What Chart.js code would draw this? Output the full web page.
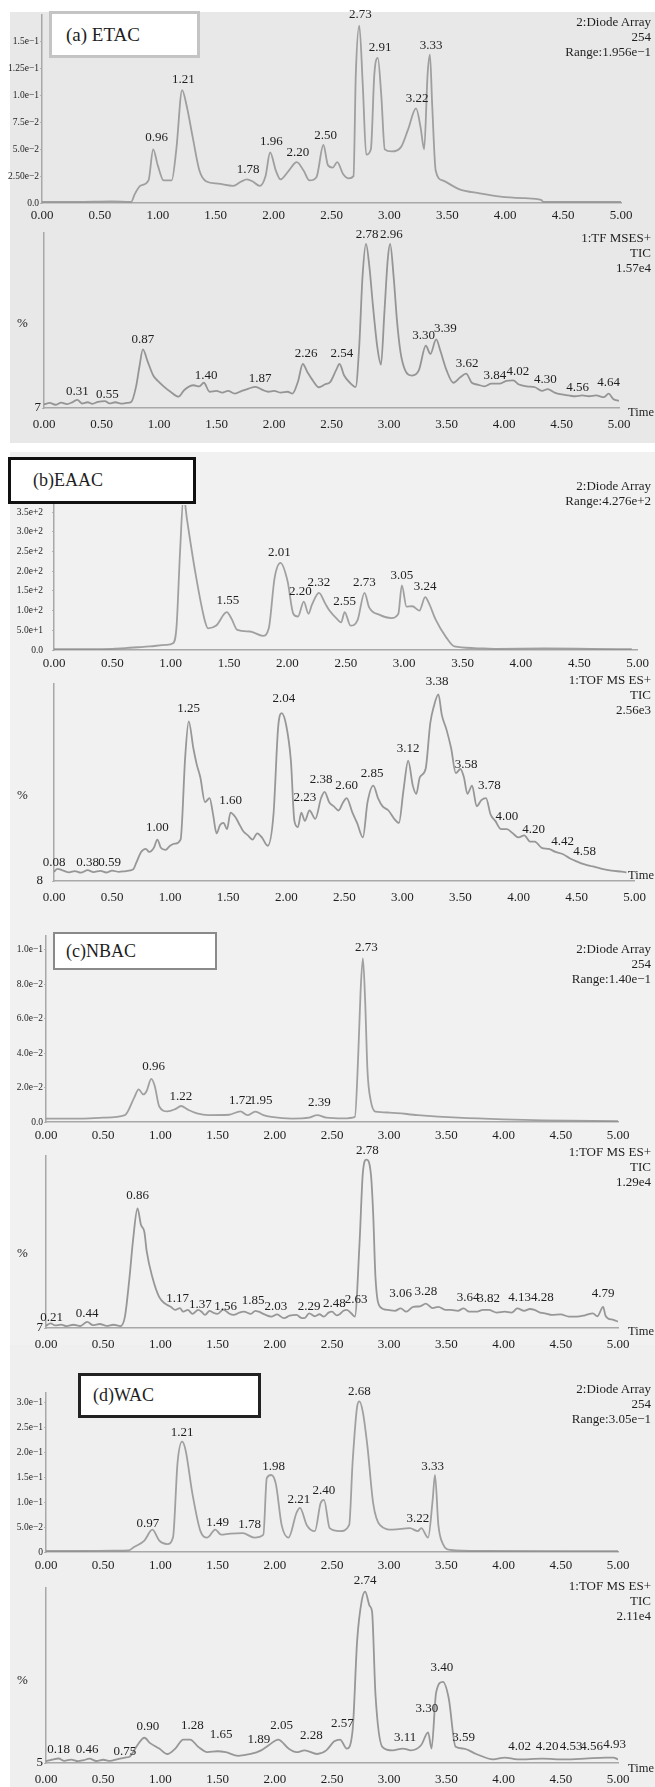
<!DOCTYPE html>
<html>
<head>
<meta charset="utf-8">
<script src="https://cdn.jsdelivr.net/npm/chart.js"></script>
<style>
  html, body { margin: 0; padding: 0; background: #fff; }
  #page { position: relative; width: 655px; height: 1787px; overflow: hidden;
          font-family: "Liberation Serif", "Times New Roman", "DejaVu Serif", serif; color: #1e1e1e; }
  .panel { position: absolute; left: 10px; width: 645px; }
  canvas { position: absolute; left: 0; }
  .tag { position: absolute; background: #fff; font-size: 18px; box-sizing: border-box;
         display: flex; align-items: center; z-index: 5; }
  .info { position: absolute; right: 4px; text-align: right; font-size: 13px; line-height: 15px; z-index: 4; }
  .pct { position: absolute; left: 17px; font-size: 13px; }
  .time { position: absolute; right: 1px; font-size: 12.5px; }
</style>
</head>
<body>
<div id="page">
  <div class="panel" style="top:12px;height:431px;background:#e7e8e7"></div>
  <div class="panel" style="top:452px;height:453px;background:#f1f1f1"></div>
  <div class="panel" style="top:905px;height:440px;background:#f1f1f1"></div>
  <div class="panel" style="top:1345px;height:442px;background:#efefef"></div>

  <canvas id="etacUvChart"></canvas>
  <canvas id="etacTicChart"></canvas>
  <canvas id="eaacUvChart"></canvas>
  <canvas id="eaacTicChart"></canvas>
  <canvas id="nbacUvChart"></canvas>
  <canvas id="nbacTicChart"></canvas>
  <canvas id="wacUvChart"></canvas>
  <canvas id="wacTicChart"></canvas>

  <div class="tag" style="left:49px;top:11px;width:151px;height:47px;border:3px solid #c4c4c4;padding-left:14px;font-size:19px">(a) ETAC</div>
  <div class="tag" style="left:8px;top:457px;width:188px;height:47px;border:3px solid #111;padding-left:22px">(b)EAAC</div>
  <div class="tag" style="left:53px;top:932px;width:164px;height:38px;border:2px solid #8a8a8a;padding-left:11px">(c)NBAC</div>
  <div class="tag" style="left:78px;top:1373px;width:183px;height:45px;border:3px solid #222;padding-left:12px">(d)WAC</div>

  <div class="info" style="top:14px">2:Diode Array<br>254<br>Range:1.956e&minus;1</div>
  <div class="info" style="top:230px">1:TF MSES+<br>TIC<br>1.57e4</div>
  <div class="info" style="top:478px">2:Diode Array<br>Range:4.276e+2</div>
  <div class="info" style="top:672px">1:TOF MS ES+<br>TIC<br>2.56e3</div>
  <div class="info" style="top:941px">2:Diode Array<br>254<br>Range:1.40e&minus;1</div>
  <div class="info" style="top:1144px">1:TOF MS ES+<br>TIC<br>1.29e4</div>
  <div class="info" style="top:1381px">2:Diode Array<br>254<br>Range:3.05e&minus;1</div>
  <div class="info" style="top:1578px">1:TOF MS ES+<br>TIC<br>2.11e4</div>

  <div class="pct" style="top:315px">%</div>
  <div class="pct" style="top:787px">%</div>
  <div class="pct" style="top:1245px">%</div>
  <div class="pct" style="top:1672px">%</div>

  <div class="time" style="top:405px">Time</div>
  <div class="time" style="top:868px">Time</div>
  <div class="time" style="top:1324px">Time</div>
  <div class="time" style="top:1761px">Time</div>
</div>

<script>
// retention time axis (min)
const timeTicks = [0, 0.5, 1, 1.5, 2, 2.5, 3, 3.5, 4, 4.5, 5];

// (a) ETAC - diode array 254
const etacUvTicks = [0, 0.025, 0.05, 0.075, 0.1, 0.125, 0.15];
const etacUvTickLabels = ['0.0', '2.50e\u22122', '5.0e\u22122', '7.5e\u22122', '1.0e\u22121', '1.25e\u22121', '1.5e\u22121'];
const etacUv = [[0,0.001],[0.3,0.001],[0.6,0.0015],[0.77,0.001],[0.8,0.008],[0.85,0.016],[0.92,0.021],[0.96,0.05],[1.0,0.035],[1.05,0.021],[1.12,0.021],[1.16,0.05],[1.21,0.105],[1.25,0.09],[1.3,0.062],[1.36,0.03],[1.42,0.02],[1.52,0.018],[1.65,0.016],[1.72,0.02],[1.77,0.022],[1.82,0.02],[1.88,0.016],[1.93,0.025],[1.97,0.047],[2.02,0.03],[2.06,0.022],[2.13,0.03],[2.2,0.038],[2.26,0.03],[2.31,0.021],[2.37,0.024],[2.43,0.054],[2.47,0.035],[2.51,0.033],[2.55,0.038],[2.6,0.027],[2.65,0.023],[2.69,0.025],[2.71,0.12],[2.74,0.165],[2.77,0.11],[2.8,0.045],[2.84,0.05],[2.87,0.12],[2.9,0.135],[2.93,0.1],[2.96,0.05],[3.02,0.048],[3.1,0.052],[3.16,0.068],[3.23,0.088],[3.27,0.07],[3.3,0.05],[3.33,0.12],[3.35,0.138],[3.37,0.09],[3.4,0.03],[3.46,0.021],[3.6,0.013],[3.78,0.009],[3.96,0.006],[4.17,0.0045],[4.31,0.003],[4.33,0.001],[5.0,0.001]];
const etacUvPeaks = [[0.99,0.061,'0.96'],[1.22,0.115,'1.21'],[1.78,0.031,'1.78'],[1.98,0.057,'1.96'],[2.21,0.047,'2.20'],[2.45,0.063,'2.50'],[2.75,0.175,'2.73'],[2.92,0.145,'2.91'],[3.36,0.147,'3.33'],[3.24,0.097,'3.22']];

// (a) ETAC - TIC
const etacTicTicks = [7];
const etacTicTickLabels = ['7'];
const etacTic = [[0,9],[0.05,9.8],[0.1,8.8],[0.15,10],[0.2,9.2],[0.25,10.3],[0.29,11.5],[0.33,9.5],[0.38,10.2],[0.42,9.3],[0.47,10.4],[0.53,10.8],[0.57,9.6],[0.62,10.2],[0.67,9.4],[0.72,9.8],[0.76,10.5],[0.8,18.7],[0.83,30],[0.86,39.5],[0.9,33],[0.95,25],[0.99,22],[1.04,19],[1.1,16],[1.17,13.3],[1.22,17],[1.3,19.6],[1.35,19],[1.39,21],[1.44,16],[1.5,16.5],[1.55,15.5],[1.6,16.5],[1.66,15],[1.72,16.5],[1.78,17.8],[1.84,18.7],[1.9,17],[1.95,16],[2.0,16.5],[2.06,15.5],[2.12,16],[2.16,15],[2.21,22],[2.25,31.4],[2.29,27],[2.34,22],[2.39,18.5],[2.44,20],[2.49,21.5],[2.54,28],[2.57,31.4],[2.61,25],[2.66,21],[2.71,18.7],[2.74,40],[2.77,80],[2.8,98],[2.83,85],[2.86,64],[2.9,40],[2.93,31],[2.96,60],[2.99,90],[3.01,98],[3.04,80],[3.07,55],[3.1,38],[3.14,28],[3.2,25],[3.26,28],[3.32,41.5],[3.36,37],[3.41,45],[3.45,38],[3.5,28],[3.56,21],[3.62,24],[3.67,26],[3.72,21],[3.77,20],[3.83,19],[3.89,20.5],[3.96,20.5],[4.02,22],[4.08,22.3],[4.13,20],[4.2,19],[4.27,18.5],[4.33,16.5],[4.38,17.5],[4.44,15.5],[4.5,14.5],[4.56,14],[4.62,13.5],[4.68,14],[4.74,13.5],[4.8,14],[4.87,13],[4.91,15],[4.95,12],[5.0,11]];
const etacTicPeaks = [[0.29,16,'0.31'],[0.55,14.2,'0.55'],[0.86,45,'0.87'],[1.41,25,'1.40'],[1.88,23.5,'1.87'],[2.28,37,'2.26'],[2.59,37,'2.54'],[2.81,103,'2.78'],[3.02,103,'2.96'],[3.3,47,'3.30'],[3.49,51,'3.39'],[3.68,31.5,'3.62'],[3.92,25,'3.84'],[4.12,27,'4.02'],[4.36,23,'4.30'],[4.64,18.5,'4.56'],[4.91,21,'4.64']];

// (b) EAAC - diode array
const eaacUvTicks = [0, 50, 100, 150, 200, 250, 300, 350];
const eaacUvTickLabels = ['0.0', '5.0e+1', '1.0e+2', '1.5e+2', '2.0e+2', '2.5e+2', '3.0e+2', '3.5e+2'];
const eaacUv = [[0,2],[0.3,2],[0.5,3],[0.61,5],[0.72,7],[0.82,9],[0.96,13],[1.02,17],[1.05,60],[1.08,250],[1.11,390],[1.14,330],[1.21,198],[1.29,77],[1.32,55],[1.39,62],[1.48,96],[1.52,80],[1.57,51],[1.68,47],[1.79,36],[1.84,55],[1.89,183],[1.94,221],[2.0,176],[2.05,92],[2.09,85],[2.14,123],[2.18,92],[2.21,115],[2.27,145],[2.32,120],[2.36,100],[2.43,77],[2.46,70],[2.49,96],[2.54,62],[2.6,75],[2.66,145],[2.7,108],[2.79,89],[2.89,81],[2.95,92],[2.98,164],[3.02,110],[3.07,111],[3.13,100],[3.18,134],[3.21,120],[3.27,77],[3.36,32],[3.43,9],[3.6,5],[3.8,3],[4.2,4],[4.6,3],[4.95,2]];
const eaacUvPeaks = [[1.49,125,'1.55'],[1.93,248,'2.01'],[2.11,148,'2.20'],[2.27,172,'2.32'],[2.49,123,'2.55'],[2.66,172,'2.73'],[2.98,190,'3.05'],[3.18,160,'3.24']];

// (b) EAAC - TIC
const eaacTicTicks = [8];
const eaacTicTickLabels = ['8'];
const eaacTic = [[0,12.5],[0.03,13.8],[0.08,13],[0.13,12.2],[0.18,12.8],[0.23,12],[0.29,13.2],[0.34,12.3],[0.4,12.9],[0.45,12.1],[0.5,13],[0.56,12.4],[0.62,12.8],[0.68,13.5],[0.71,17],[0.75,22],[0.79,23.5],[0.82,22],[0.86,24],[0.89,28],[0.92,24],[0.96,23],[1.0,25],[1.04,26],[1.09,28],[1.13,68],[1.16,85],[1.2,72],[1.23,64],[1.26,58],[1.3,46],[1.34,48],[1.37,40],[1.4,31],[1.43,35],[1.46,36],[1.49,33],[1.52,41],[1.56,39],[1.59,36],[1.63,32],[1.67,30],[1.71,28],[1.75,31],[1.79,29],[1.84,25],[1.89,40],[1.93,82],[1.96,89],[2.0,83],[2.04,66],[2.07,37],[2.1,34],[2.13,41],[2.16,37],[2.2,42],[2.25,38],[2.3,48],[2.33,51],[2.37,46],[2.41,44],[2.45,42],[2.49,46],[2.52,48],[2.57,41],[2.61,36],[2.66,29],[2.7,46],[2.75,54],[2.79,48],[2.83,44],[2.88,42],[2.93,38],[2.97,36],[3.01,52],[3.05,66],[3.09,54],[3.12,50],[3.15,58],[3.2,62],[3.24,84],[3.27,92],[3.31,98],[3.34,88],[3.38,81],[3.42,72],[3.46,60],[3.5,62],[3.53,58],[3.56,50],[3.6,54],[3.64,44],[3.68,47],[3.72,48],[3.76,40],[3.8,37],[3.85,33],[3.9,33],[3.95,31],[4.0,29],[4.05,30],[4.1,27],[4.14,27],[4.2,24],[4.26,23.5],[4.32,22],[4.38,21],[4.44,19],[4.5,17.5],[4.57,16],[4.64,15],[4.71,14],[4.8,13],[4.89,12.5],[4.93,12.2]];
const eaacTicPeaks = [[0.0,17,'0.08'],[0.29,17,'0.38'],[0.48,17,'0.59'],[0.89,34,'1.00'],[1.16,91,'1.25'],[1.52,47,'1.60'],[1.98,96,'2.04'],[2.16,48,'2.23'],[2.3,57,'2.38'],[2.52,54,'2.60'],[2.74,60,'2.85'],[3.05,72,'3.12'],[3.3,104,'3.38'],[3.55,64,'3.58'],[3.75,54,'3.78'],[3.9,39,'4.00'],[4.13,33,'4.20'],[4.38,27,'4.42'],[4.57,22,'4.58']];

// (c) NBAC - diode array 254
const nbacUvTicks = [0, 0.02, 0.04, 0.06, 0.08, 0.1];
const nbacUvTickLabels = ['0.0', '2.0e\u22122', '4.0e\u22122', '6.0e\u22122', '8.0e\u22122', '1.0e\u22121'];
const nbacUv = [[0,0.002],[0.3,0.002],[0.5,0.0025],[0.69,0.004],[0.77,0.014],[0.81,0.019],[0.85,0.016],[0.88,0.018],[0.92,0.025],[0.95,0.021],[0.99,0.009],[1.06,0.0062],[1.13,0.0075],[1.18,0.0093],[1.24,0.0072],[1.32,0.005],[1.42,0.004],[1.6,0.0042],[1.7,0.0062],[1.76,0.004],[1.83,0.006],[1.9,0.004],[1.97,0.003],[2.15,0.002],[2.3,0.0025],[2.37,0.004],[2.45,0.0025],[2.6,0.0021],[2.7,0.003],[2.73,0.04],[2.75,0.076],[2.77,0.095],[2.79,0.07],[2.81,0.03],[2.84,0.012],[2.88,0.006],[3.0,0.0055],[3.25,0.004],[3.6,0.0025],[4.0,0.0015],[4.35,0.001],[5.0,0.0005]];
const nbacUvPeaks = [[0.94,0.032,'0.96'],[1.18,0.0145,'1.22'],[1.7,0.0125,'1.72'],[1.88,0.0125,'1.95'],[2.39,0.0115,'2.39'],[2.8,0.101,'2.73']];

// (c) NBAC - TIC
const nbacTicTicks = [7];
const nbacTicTickLabels = ['7'];
const nbacTic = [[0,8.2],[0.04,9.6],[0.08,8.4],[0.13,8.9],[0.18,8],[0.24,8.8],[0.3,8.1],[0.36,10.4],[0.41,8.6],[0.47,9.2],[0.53,8.2],[0.59,8.8],[0.65,8],[0.69,13.3],[0.73,35],[0.76,55],[0.8,73],[0.83,64],[0.86,60],[0.88,49.4],[0.93,35],[0.99,24],[1.04,20.5],[1.09,18.7],[1.13,17],[1.17,18],[1.2,16],[1.24,17],[1.28,14.8],[1.33,17],[1.36,16],[1.39,14.2],[1.43,16.5],[1.46,15.5],[1.5,14.8],[1.55,17.2],[1.6,15],[1.64,14.2],[1.69,15.5],[1.73,16],[1.79,14.8],[1.83,16.5],[1.86,16],[1.91,14.5],[1.97,13.3],[2.02,14.5],[2.08,12.4],[2.13,13.8],[2.19,14.2],[2.23,12.6],[2.26,12.4],[2.3,15.1],[2.35,13.5],[2.39,14.6],[2.43,13.3],[2.47,15.5],[2.5,16],[2.54,14],[2.57,14.8],[2.6,16.5],[2.63,17],[2.67,15],[2.7,13.3],[2.74,53],[2.77,93],[2.8,100],[2.84,92],[2.86,70],[2.88,35],[2.92,18.7],[2.99,17],[3.05,16.5],[3.1,17.8],[3.15,16],[3.21,18.7],[3.27,19],[3.32,20.5],[3.38,18],[3.43,18.7],[3.49,17],[3.54,17],[3.6,16.5],[3.65,17.8],[3.7,16],[3.76,16],[3.82,17],[3.87,17],[3.94,15.5],[4.01,16],[4.07,15.5],[4.12,17.8],[4.18,16.5],[4.23,17.5],[4.27,17],[4.32,15.5],[4.37,15],[4.42,14.2],[4.5,14.5],[4.57,13.3],[4.64,13.3],[4.71,14],[4.78,15.1],[4.82,13.5],[4.87,18.7],[4.89,14],[4.91,12.4],[4.96,11.5],[5.0,10.5]];
const nbacTicPeaks = [[0.05,12.8,'0.21'],[0.36,15.2,'0.44'],[0.8,80,'0.86'],[1.15,23,'1.17'],[1.35,20,'1.37'],[1.57,19,'1.56'],[1.81,22,'1.85'],[2.01,19,'2.03'],[2.3,19,'2.29'],[2.52,20.5,'2.48'],[2.71,22.5,'2.63'],[2.81,105,'2.78'],[3.1,26,'3.06'],[3.32,27,'3.28'],[3.69,24,'3.64'],[3.87,23.3,'3.82'],[4.14,24,'4.13'],[4.34,24,'4.28'],[4.87,26,'4.79']];

// (d) WAC - diode array 254
const wacUvTicks = [0, 0.05, 0.1, 0.15, 0.2, 0.25, 0.3];
const wacUvTickLabels = ['0', '5.0e\u22122', '1.0e\u22121', '1.5e\u22121', '2.0e\u22121', '2.5e\u22121', '3.0e\u22121'];
const wacUv = [[0,0.002],[0.3,0.002],[0.6,0.0025],[0.72,0.003],[0.77,0.01],[0.86,0.023],[0.93,0.045],[0.99,0.023],[1.06,0.016],[1.11,0.029],[1.15,0.18],[1.19,0.222],[1.22,0.205],[1.28,0.117],[1.35,0.042],[1.41,0.029],[1.48,0.045],[1.53,0.035],[1.61,0.037],[1.72,0.038],[1.82,0.029],[1.9,0.035],[1.93,0.149],[1.97,0.155],[2.01,0.136],[2.06,0.054],[2.12,0.029],[2.19,0.079],[2.22,0.089],[2.28,0.054],[2.35,0.042],[2.4,0.098],[2.43,0.105],[2.48,0.048],[2.57,0.042],[2.65,0.054],[2.68,0.18],[2.72,0.293],[2.74,0.303],[2.77,0.281],[2.81,0.212],[2.86,0.098],[2.92,0.054],[3.03,0.045],[3.18,0.048],[3.25,0.042],[3.28,0.048],[3.34,0.029],[3.38,0.105],[3.4,0.155],[3.43,0.054],[3.47,0.016],[3.54,0.004],[3.8,0.002],[5.0,0.0015]];
const wacUvPeaks = [[0.89,0.058,'0.97'],[1.19,0.24,'1.21'],[1.5,0.06,'1.49'],[1.78,0.055,'1.78'],[1.99,0.172,'1.98'],[2.21,0.106,'2.21'],[2.43,0.124,'2.40'],[2.74,0.322,'2.68'],[3.25,0.068,'3.22'],[3.38,0.172,'3.33']];

// (d) WAC - TIC
const wacTicTicks = [5];
const wacTicTickLabels = ['5'];
const wacTic = [[0,6],[0.05,6.8],[0.11,7.5],[0.16,6.2],[0.22,6.9],[0.28,6],[0.33,6.6],[0.38,7.4],[0.44,6.1],[0.5,6.8],[0.56,6.2],[0.62,7],[0.69,8],[0.73,8.5],[0.8,15],[0.86,19],[0.91,16],[0.99,13],[1.06,10],[1.13,13],[1.2,18],[1.26,18],[1.33,14],[1.41,11],[1.5,11.5],[1.57,11],[1.68,9],[1.79,10],[1.88,12],[1.95,15],[2.03,18],[2.12,13],[2.19,11],[2.26,12],[2.37,10],[2.45,12],[2.52,17],[2.57,18],[2.63,13],[2.68,23],[2.72,73],[2.76,95],[2.79,100],[2.83,92],[2.85,89],[2.88,43],[2.94,14],[3.03,12],[3.12,13],[3.19,12],[3.28,15],[3.34,22],[3.37,13],[3.41,44],[3.47,50],[3.52,41],[3.58,14],[3.65,13],[3.76,10],[3.91,7],[4.01,8],[4.12,7],[4.34,7.4],[4.53,7],[4.71,7.4],[4.89,8],[4.96,8],[5.0,7]];
const wacTicPeaks = [[0.11,12.5,'0.18'],[0.36,12.5,'0.46'],[0.69,11.5,'0.75'],[0.89,25,'0.90'],[1.28,26,'1.28'],[1.53,21,'1.65'],[1.86,18,'1.89'],[2.06,26,'2.05'],[2.32,20,'2.28'],[2.59,27,'2.57'],[2.79,106,'2.74'],[3.14,19,'3.11'],[3.33,35,'3.30'],[3.46,58,'3.40'],[3.65,19,'3.59'],[4.14,14,'4.02'],[4.38,14,'4.20'],[4.59,14,'4.53'],[4.77,14,'4.56'],[4.97,15,'4.93']];

const FONT = '"Liberation Serif", "Times New Roman", "DejaVu Serif", serif';
const PAD_T = 26;
const AXIS_H = 30;

// numero do pico escrito acima de cada pico
const peakLabels = {
  id: 'peakLabels',
  afterDraw(chart, args, opts) {
    const ctx = chart.ctx;
    const xs = chart.scales.x, ys = chart.scales.y;
    ctx.save();
    ctx.font = '13px ' + FONT;
    ctx.fillStyle = '#1e1e1e';
    ctx.textAlign = 'center';
    ctx.textBaseline = 'middle';
    (opts.items || []).forEach(p => {
      ctx.fillText(p[2], xs.getPixelForValue(p[0]), ys.getPixelForValue(p[1]));
    });
    ctx.restore();
  }
};

function desenharTraco(id, box, trace, peaks, yTicks, yTickLabels, cfg) {
  const cv = document.getElementById(id);
  const h = box.base - box.top + PAD_T + AXIS_H;
  cv.width = 655;
  cv.height = h;
  cv.style.width = '655px';
  cv.style.height = h + 'px';
  cv.style.top = (box.top - PAD_T) + 'px';

  return new Chart(cv, {
    type: 'line',
    data: {
      datasets: [{
        data: trace.map(p => ({ x: p[0], y: p[1] })),
        borderColor: cfg.color,
        borderWidth: cfg.width,
        pointRadius: 0,
        fill: false,
        cubicInterpolationMode: 'monotone'
      }]
    },
    plugins: [peakLabels],
    options: {
      responsive: false,
      animation: false,
      devicePixelRatio: 1,
      layout: { padding: { top: PAD_T, right: 655 - box.right, left: 0, bottom: 0 } },
      plugins: {
        legend: { display: false },
        tooltip: { enabled: false },
        peakLabels: { items: peaks }
      },
      scales: {
        x: {
          type: 'linear', min: 0, max: 5,
          afterBuildTicks: s => { s.ticks = timeTicks.map(v => ({ value: v })); },
          afterFit: s => { s.height = AXIS_H; },
          grid: { display: true, drawOnChartArea: false, drawTicks: false },
          border: { display: true, color: cfg.axis, width: 1.5 },
          ticks: {
            autoSkip: false, maxRotation: 0, padding: cfg.xPad, color: '#1e1e1e',
            font: { family: FONT, size: 13 },
            callback: v => Number(v).toFixed(2)
          }
        },
        y: {
          type: 'linear', min: box.min, max: box.max,
          afterBuildTicks: s => { s.ticks = yTicks.map(v => ({ value: v })); },
          afterFit: s => { s.width = box.left; },
          grid: { display: true, drawOnChartArea: false, drawTicks: true, tickLength: 2, color: '#b5b5b5' },
          border: { display: true, color: cfg.axis, width: 1.5 },
          ticks: {
            autoSkip: false, padding: cfg.yPad, color: '#1e1e1e',
            font: { family: FONT, size: cfg.yFont },
            callback: (v, i) => yTickLabels[i]
          }
        }
      }
    }
  });
}

const uvStyle = { color: 'rgba(140,140,140,0.8)', width: 1.8, axis: '#a8a8a8', xPad: 6, yPad: 1, yFont: 9.5 };
const ticStyle = { color: 'rgba(125,125,125,0.78)', width: 1.8, axis: '#a8a8a8', xPad: 9, yPad: 1, yFont: 13 };

desenharTraco('etacUvChart', { left: 42, right: 621, base: 203, top: 15, min: 0, max: 0.175 },
  etacUv, etacUvPeaks, etacUvTicks, etacUvTickLabels, Object.assign({}, uvStyle, { xPad: 5 }));
desenharTraco('etacTicChart', { left: 44, right: 619, base: 408, top: 233, min: 7, max: 104 },
  etacTic, etacTicPeaks, etacTicTicks, etacTicTickLabels, ticStyle);

desenharTraco('eaacUvChart', { left: 54, right: 639, base: 650, top: 505, min: 0, max: 368 },
  eaacUv, eaacUvPeaks, eaacUvTicks, eaacUvTickLabels, Object.assign({}, uvStyle, { yPad: 9 }));
desenharTraco('eaacTicChart', { left: 54, right: 639, base: 881, top: 684, min: 8, max: 103 },
  eaacTic, eaacTicPeaks, eaacTicTicks, eaacTicTickLabels, Object.assign({}, ticStyle, { yPad: 9 }));

desenharTraco('nbacUvChart', { left: 46, right: 618, base: 1122, top: 936, min: 0, max: 0.108 },
  nbacUv, nbacUvPeaks, nbacUvTicks, nbacUvTickLabels, uvStyle);
desenharTraco('nbacTicChart', { left: 46, right: 618, base: 1328, top: 1156, min: 7, max: 102 },
  nbacTic, nbacTicPeaks, nbacTicTicks, nbacTicTickLabels, ticStyle);

desenharTraco('wacUvChart', { left: 46, right: 618, base: 1552, top: 1393, min: 0, max: 0.32 },
  wacUv, wacUvPeaks, wacUvTicks, wacUvTickLabels, uvStyle);
desenharTraco('wacTicChart', { left: 46, right: 618, base: 1763, top: 1588, min: 5, max: 102 },
  wacTic, wacTicPeaks, wacTicTicks, wacTicTickLabels, ticStyle);
</script>
</body>
</html>
